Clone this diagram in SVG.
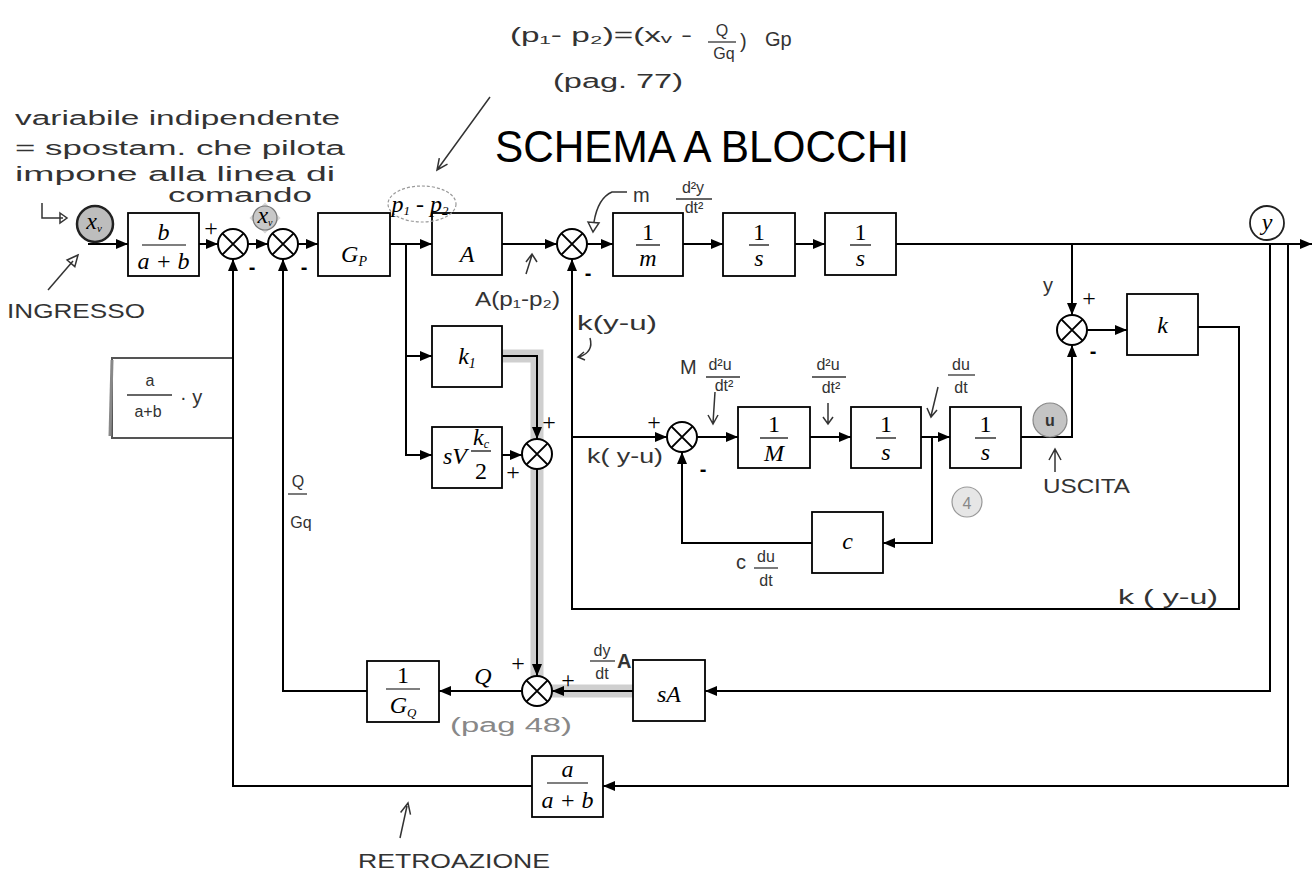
<svg xmlns="http://www.w3.org/2000/svg" width="1312" height="875" viewBox="0 0 1312 875">
<defs>
<marker id="ah" markerUnits="userSpaceOnUse" markerWidth="12" markerHeight="10" refX="12" refY="5" orient="auto"><path d="M0,0 L12,5 L0,10 z" fill="#000"/></marker>
</defs>
<style>
.blk{fill:#fff;stroke:#000;stroke-width:1.8}
.ln{fill:none;stroke:#000;stroke-width:2}
.hlt{fill:none;stroke:#cfcfcf;stroke-width:13}
.sc{fill:#fff;stroke:#000;stroke-width:2}
.sx{stroke:#000;stroke-width:2}
.ts{font-family:"Liberation Serif",serif;font-style:italic;font-size:24px;fill:#000;text-anchor:middle}
.tn{font-family:"Liberation Serif",serif;font-size:24px;fill:#000;text-anchor:middle}
.bar{stroke:#000;stroke-width:1.2}
.hw{font-family:"Liberation Sans",sans-serif;font-size:20px;fill:#333}
.hwc{font-family:"Liberation Sans",sans-serif;font-size:16px;fill:#333;text-anchor:middle}
.hl{fill:none;stroke:#333;stroke-width:1.5}
.hbar{stroke:#333;stroke-width:1.3}
.pm{font-family:"Liberation Serif",serif;font-size:24px;fill:#000;text-anchor:middle}
.mn{font-family:"Liberation Sans",sans-serif;font-weight:bold;font-size:20px;fill:#000;text-anchor:middle}
.gry{fill:#888}
</style>
<rect width="1312" height="875" fill="#fff"/>

<!-- title -->
<text id="title" x="495" y="162" font-family="Liberation Sans, sans-serif" font-size="44" textLength="414" lengthAdjust="spacingAndGlyphs" fill="#000">SCHEMA A BLOCCHI</text>

<!-- highlight band -->
<g id="highlight">
<path class="hlt" d="M502 356 H537 V676"/>
<path class="hlt" d="M552 691 H633"/>
</g>

<!-- connectors -->
<g id="connectors">
<path class="ln" d="M88 244 H128" marker-end="url(#ah)"/>
<path class="ln" d="M199 244 H218" marker-end="url(#ah)"/>
<path class="ln" d="M248 244 H268" marker-end="url(#ah)"/>
<path class="ln" d="M298 244 H318" marker-end="url(#ah)"/>
<path class="ln" d="M390 244 H432" marker-end="url(#ah)"/>
<path class="ln" d="M406 244 V455 H432" marker-end="url(#ah)"/>
<path class="ln" d="M406 356 H432" marker-end="url(#ah)"/>
<path class="ln" d="M502 244 H557" marker-end="url(#ah)"/>
<path class="ln" d="M587 244 H613" marker-end="url(#ah)"/>
<path class="ln" d="M683 244 H723" marker-end="url(#ah)"/>
<path class="ln" d="M795 244 H825" marker-end="url(#ah)"/>
<path class="ln" d="M896 244 H1312" marker-end="url(#ah)"/>
<path class="ln" d="M1072 244 V315" marker-end="url(#ah)"/>
<path class="ln" d="M1087 330 H1127" marker-end="url(#ah)"/>
<path class="ln" d="M1198 327 H1239 V609 H572 V259" marker-end="url(#ah)"/>
<path class="ln" d="M572 437 H667" marker-end="url(#ah)"/>
<path class="ln" d="M697 437 H738" marker-end="url(#ah)"/>
<path class="ln" d="M810 437 H851" marker-end="url(#ah)"/>
<path class="ln" d="M921 437 H950" marker-end="url(#ah)"/>
<path class="ln" d="M932 437 V543 H883" marker-end="url(#ah)"/>
<path class="ln" d="M812 543 H682 V452" marker-end="url(#ah)"/>
<path class="ln" d="M1021 437 H1072 V345" marker-end="url(#ah)"/>
<path class="ln" d="M502 356 H537 V439" marker-end="url(#ah)"/>
<path class="ln" d="M502 455 H522" marker-end="url(#ah)"/>
<path class="ln" d="M537 469 V676" marker-end="url(#ah)"/>
<path class="ln" d="M633 691 H552" marker-end="url(#ah)"/>
<path class="ln" d="M1270 244 V691 H705" marker-end="url(#ah)"/>
<path class="ln" d="M1288 244 V786 H603" marker-end="url(#ah)"/>
<path class="ln" d="M522 691 H439" marker-end="url(#ah)"/>
<path class="ln" d="M367 691 H283 V259" marker-end="url(#ah)"/>
<path class="ln" d="M532 786 H233 V259" marker-end="url(#ah)"/>
</g>

<!-- sums -->
<g id="sum1"><circle class="sc" cx="233" cy="244" r="15"/><path class="sx" d="M222.4 233.4 L243.6 254.6 M243.6 233.4 L222.4 254.6"/></g>
<g id="sum2"><circle class="sc" cx="283" cy="244" r="15"/><path class="sx" d="M272.4 233.4 L293.6 254.6 M293.6 233.4 L272.4 254.6"/></g>
<g id="sum3"><circle class="sc" cx="572" cy="244" r="15"/><path class="sx" d="M561.4 233.4 L582.6 254.6 M582.6 233.4 L561.4 254.6"/></g>
<g id="sum4"><circle class="sc" cx="1072" cy="330" r="15"/><path class="sx" d="M1061.4 319.4 L1082.6 340.6 M1082.6 319.4 L1061.4 340.6"/></g>
<g id="sum5"><circle class="sc" cx="537" cy="454" r="15"/><path class="sx" d="M526.4 443.4 L547.6 464.6 M547.6 443.4 L526.4 464.6"/></g>
<g id="sum6"><circle class="sc" cx="537" cy="691" r="15"/><path class="sx" d="M526.4 680.4 L547.6 701.6 M547.6 680.4 L526.4 701.6"/></g>
<g id="sum7"><circle class="sc" cx="682" cy="437" r="15"/><path class="sx" d="M671.4 426.4 L692.6 447.6 M692.6 426.4 L671.4 447.6"/></g>

<!-- blocks -->
<g id="b_bab"><rect class="blk" x="128" y="213" width="71" height="63"/><text class="ts" x="163.5" y="240">b</text><line class="bar" x1="142" y1="245" x2="186" y2="245"/><text class="ts" x="163.5" y="269" font-size="22">a + b</text></g>
<g id="b_gp"><rect class="blk" x="318" y="213" width="72" height="63"/><text class="ts" x="354" y="262">G<tspan font-size="14" dy="4">P</tspan></text></g>
<g id="b_a"><rect class="blk" x="432" y="213" width="70" height="62"/><text class="ts" x="467" y="262">A</text></g>
<g id="b_1m"><rect class="blk" x="613" y="213" width="70" height="63"/><text class="tn" x="648" y="240">1</text><line class="bar" x1="636" y1="245" x2="660" y2="245"/><text class="ts" x="648" y="266">m</text></g>
<g id="b_1s1"><rect class="blk" x="723" y="213" width="72" height="63"/><text class="tn" x="759" y="240">1</text><line class="bar" x1="749" y1="245" x2="769" y2="245"/><text class="ts" x="759" y="266">s</text></g>
<g id="b_1s2"><rect class="blk" x="825" y="213" width="71" height="62"/><text class="tn" x="860.5" y="240">1</text><line class="bar" x1="850" y1="245" x2="871" y2="245"/><text class="ts" x="860.5" y="266">s</text></g>
<g id="b_k"><rect class="blk" x="1127" y="294" width="71" height="61"/><text class="ts" x="1162.5" y="333">k</text></g>
<g id="b_k1"><rect class="blk" x="432" y="326" width="70" height="61"/><text class="ts" x="467" y="364">k<tspan font-size="14" dy="4">1</tspan></text></g>
<g id="b_sv"><rect class="blk" x="432" y="427" width="70" height="61"/><text class="ts" x="455" y="464">sV</text><text class="ts" x="481" y="445" font-size="20">k<tspan font-size="12" dy="3">c</tspan></text><line class="bar" x1="471" y1="451" x2="491" y2="451"/><text class="tn" x="481" y="479" font-size="22">2</text></g>
<g id="b_1M"><rect class="blk" x="738" y="407" width="72" height="61"/><text class="tn" x="774" y="432">1</text><line class="bar" x1="760" y1="438" x2="788" y2="438"/><text class="ts" x="774" y="461">M</text></g>
<g id="b_1s3"><rect class="blk" x="851" y="407" width="70" height="61"/><text class="tn" x="886" y="432">1</text><line class="bar" x1="876" y1="438" x2="896" y2="438"/><text class="ts" x="886" y="460">s</text></g>
<g id="b_1s4"><rect class="blk" x="950" y="407" width="71" height="61"/><text class="tn" x="985.5" y="432">1</text><line class="bar" x1="975" y1="438" x2="996" y2="438"/><text class="ts" x="985.5" y="460">s</text></g>
<g id="b_c"><rect class="blk" x="812" y="512" width="71" height="61"/><text class="ts" x="847.5" y="549">c</text></g>
<g id="b_1gq"><rect class="blk" x="367" y="661" width="72" height="61"/><text class="tn" x="403" y="683">1</text><line class="bar" x1="386" y1="689" x2="420" y2="689"/><text class="ts" x="403" y="713">G<tspan font-size="13" dy="4">Q</tspan></text></g>
<g id="b_sa"><rect class="blk" x="633" y="660" width="72" height="61"/><text class="ts" x="669" y="702">sA</text></g>
<g id="b_aab"><rect class="blk" x="532" y="756" width="71" height="61"/><text class="ts" x="567.5" y="777">a</text><line class="bar" x1="547" y1="783" x2="588" y2="783"/><text class="ts" x="567.5" y="808" font-size="22">a + b</text></g>

<!-- signs -->
<g id="signs">
<text class="pm" x="211" y="236">+</text>
<text class="mn" x="252" y="274">-</text>
<text class="mn" x="304" y="274">-</text>
<text class="mn" x="588" y="280">-</text>
<text class="pm" x="1089" y="306">+</text>
<text class="mn" x="1093" y="358">-</text>
<text class="pm" x="549" y="430">+</text>
<text class="pm" x="513" y="480">+</text>
<text class="pm" x="654" y="430">+</text>
<text class="mn" x="703" y="476">-</text>
<text class="pm" x="518" y="671">+</text>
<text class="pm" x="568" y="688">+</text>
<text class="ts" x="483" y="684" font-size="22">Q</text>
</g>

<!-- signal markers -->
<g id="xv_in"><circle cx="95" cy="224" r="18" fill="#bdbdbd" stroke="#222" stroke-width="2.5"/><text class="ts" x="94" y="229" font-size="18">x<tspan font-size="11" dy="3">v</tspan></text></g>
<g id="xv_mid"><rect x="254" y="207" width="22" height="22" transform="rotate(45 265 218)" fill="#d8d8d8"/><circle cx="265" cy="218" r="12" fill="#c8c8c8" stroke="#777" stroke-width="1.2"/><text class="ts" x="265" y="223" font-size="16" fill="#555">x<tspan font-size="10" dy="3">v</tspan></text></g>
<g id="p1p2"><ellipse cx="422" cy="204" rx="34" ry="18" fill="none" stroke="#999" stroke-width="1.2" stroke-dasharray="3 2"/><text class="ts" x="420" y="212" font-size="21">p<tspan font-size="13" dy="3">1</tspan><tspan dy="-3"> - p</tspan><tspan font-size="13" dy="3">2</tspan></text></g>
<g id="y_out"><circle cx="1267" cy="223" r="17" fill="#fff" stroke="#222" stroke-width="1.8"/><text class="ts" x="1267" y="230" font-size="20">y</text></g>
<g id="u_out"><circle cx="1050" cy="420" r="17" fill="#c4c4c4" stroke="#888" stroke-width="1.2"/><text class="hwc" x="1050" y="426" font-weight="bold" font-size="17">u</text></g>
<g id="mark4"><circle cx="967" cy="502" r="15" fill="#e6e6e6" stroke="#999" stroke-width="1.2"/><text class="hwc gry" x="967" y="509" font-size="18">4</text></g>

<!-- handwritten annotations -->
<g id="notes">
<text class="hw" x="15" y="125" font-size="22" textLength="325" lengthAdjust="spacingAndGlyphs">variabile  indipendente</text>
<text class="hw" x="15" y="155" font-size="22" textLength="330" lengthAdjust="spacingAndGlyphs">=  spostam.  che  pilota</text>
<text class="hw" x="15" y="181" font-size="22" textLength="320" lengthAdjust="spacingAndGlyphs">impone   alla  linea  di</text>
<text class="hw" x="168" y="202" font-size="17" textLength="144" lengthAdjust="spacingAndGlyphs">comando</text>
<path class="hl" d="M42 203 V218 H63"/><path class="hl" d="M60 213 L67 218 L60 223 Z"/>
<text class="hw" x="7" y="318" font-size="17" textLength="138" lengthAdjust="spacingAndGlyphs">INGRESSO</text>
<path class="hl" d="M48 290 L73 261"/><path class="hl" d="M78 255 L67.1 260 L74.8 266.6 Z"/>

<text class="hw" x="510" y="42" font-size="24" textLength="182" lengthAdjust="spacingAndGlyphs">(p₁- p₂)=(xᵥ -</text>
<text class="hwc" x="722" y="36" font-size="18">Q</text><line class="hbar" x1="708" y1="42" x2="736" y2="42"/><text class="hwc" x="724" y="59" font-size="14">Gq</text>
<text class="hw" x="740" y="48" font-size="28">)</text>
<text class="hw" x="765" y="46" font-size="20">Gp</text>
<text class="hw" x="553" y="88" font-size="22" textLength="130" lengthAdjust="spacingAndGlyphs">(pag. 77)</text>
<path class="hl" d="M490 97 L437 170 M447.5 164.2 L437 170 L439.3 158.2"/>

<text class="hw" x="633" y="202" font-size="18">m</text>
<text class="hwc" x="693" y="193" font-size="16">d²y</text><line class="hbar" x1="676" y1="199" x2="712" y2="199"/><text class="hwc" x="694" y="213" font-size="14">dt²</text>
<path class="hl" d="M627 192 H612 Q598 198 594 222"/><path class="hl" d="M588 222 L593 232 L599 223 Z"/>

<path class="hl" d="M526 274 L532 255 M526 262 L532 254 L537 262"/>
<text class="hw" x="475" y="306" font-size="19" textLength="85" lengthAdjust="spacingAndGlyphs">A(p₁-p₂)</text>
<text class="hw" x="577" y="330" font-size="19" textLength="80" lengthAdjust="spacingAndGlyphs">k(y-u)</text>
<path class="hl" d="M590 338 Q594 352 579 357 M584 352 L578 357 L585 360"/>

<text class="hw" x="680" y="374" font-size="15">M</text>
<text class="hwc" x="720" y="370" font-size="16">d²u</text><line class="hbar" x1="706" y1="377" x2="740" y2="377"/><text class="hwc" x="724" y="391" font-size="14">dt²</text>
<path class="hl" d="M715 392 L713 423 M708 415 L713 424 L718 415"/>

<text class="hwc" x="828" y="370" font-size="16">d²u</text><line class="hbar" x1="812" y1="377" x2="846" y2="377"/><text class="hwc" x="831" y="393" font-size="14">dt²</text>
<path class="hl" d="M828 403 L828 424 M823 417 L828 424 L833 417"/>

<text class="hwc" x="961" y="370" font-size="16">du</text><line class="hbar" x1="948" y1="375" x2="975" y2="375"/><text class="hwc" x="961" y="393" font-size="15">dt</text>
<path class="hl" d="M938 387 L931 416 M927 408 L931 417 L937 410"/>

<text class="hw" x="587" y="463" font-size="19" textLength="76" lengthAdjust="spacingAndGlyphs">k( y-u)</text>

<text class="hw" x="736" y="569" font-size="18">c</text>
<text class="hwc" x="766" y="562" font-size="15">du</text><line class="hbar" x1="754" y1="568" x2="778" y2="568"/><text class="hwc" x="766" y="586" font-size="14">dt</text>

<text class="hw" x="1043" y="292" font-size="22">y</text>

<text class="hw" x="1043" y="493" font-size="17" textLength="87" lengthAdjust="spacingAndGlyphs">USCITA</text>
<path class="hl" d="M1055 472 L1055 450 M1049 460 L1055 449 L1061 460"/>

<text class="hw" x="1118" y="604" font-size="19" textLength="100" lengthAdjust="spacingAndGlyphs">k ( y-u)</text>

<path d="M232 358 H112 V438 H232" fill="none" stroke="#555" stroke-width="2"/>
<path d="M112 360 L110 436" stroke="#888" stroke-width="3"/>
<text class="hwc" x="150" y="386" font-size="16">a</text><line class="hbar" x1="127" y1="395" x2="172" y2="395"/><text class="hwc" x="148" y="417" font-size="16">a+b</text>
<text class="hw" x="180" y="404" font-size="20">· y</text>

<text class="hwc" x="298" y="487" font-size="20">Q</text><line class="hbar" x1="288" y1="494" x2="307" y2="494"/><text class="hwc" x="301" y="528" font-size="18">Gq</text>

<text class="hwc" x="602" y="656" font-size="16">dy</text><line class="hbar" x1="590" y1="661" x2="615" y2="661"/><text class="hwc" x="602" y="679" font-size="15">dt</text>
<text class="hw" x="617" y="668" font-size="18" font-weight="bold">A</text>

<text class="hw gry" x="450" y="732" font-size="24" textLength="122" lengthAdjust="spacingAndGlyphs">(pag 48)</text>

<text class="hw" x="358" y="868" font-size="17" textLength="192" lengthAdjust="spacingAndGlyphs">RETROAZIONE</text>
<path class="hl" d="M400 838 L407 806 M400.6 812.5 L408 803 L410.5 814.7"/>
</g>
</svg>
